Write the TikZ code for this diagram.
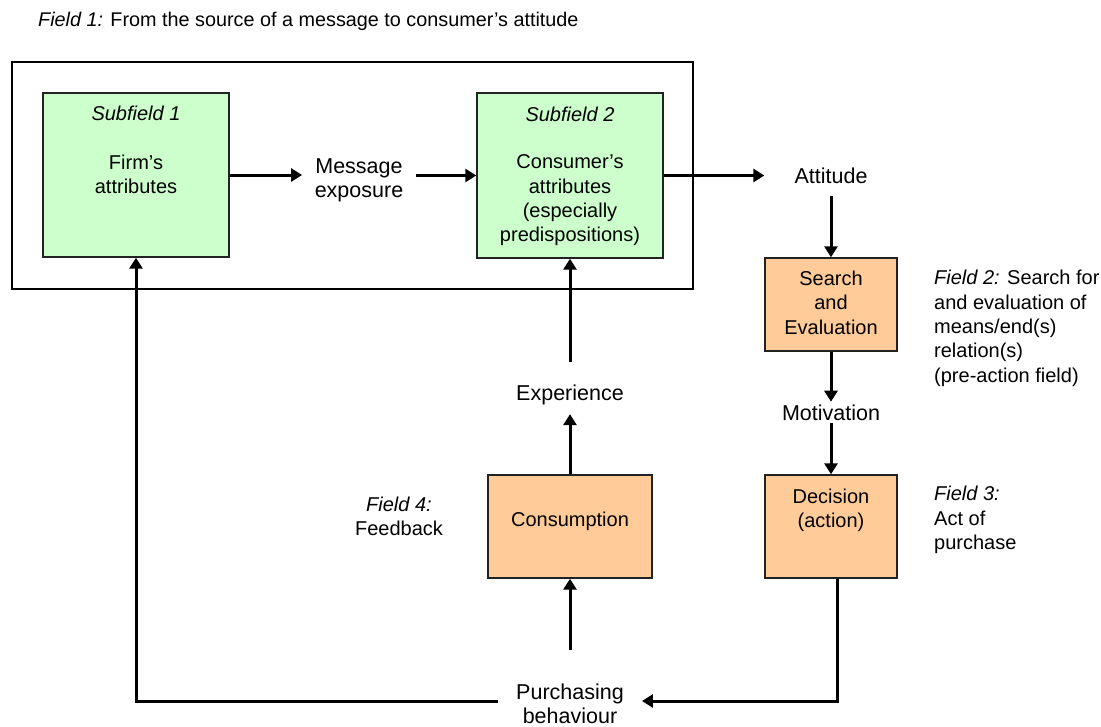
\documentclass[tikz,border=0pt]{standalone}
\usepackage{fontspec}
\setmainfont{Liberation Sans}
\usetikzlibrary{arrows.meta}
\definecolor{boxgreen}{HTML}{CCFFCC}
\definecolor{boxorange}{HTML}{FFCC99}
\definecolor{edge}{HTML}{222222}

\begin{document}
\begin{tikzpicture}[x=1pt,y=-1pt,
  boxfont/.style={font=\fontsize{20}{24.3}\selectfont},
  labfont/.style={font=\fontsize{21.5}{24}\selectfont},
  greenbox/.style={draw=edge, line width=1.4pt, fill=boxgreen, inner sep=0,
                   minimum width=186pt, minimum height=164pt},
  orangebox/.style={draw=edge, line width=1.4pt, fill=boxorange, inner sep=0},
  % multi-line texts are placed by the baseline of their last line
  txt/.style={boxfont, align=center, inner sep=0, anchor=base},
  note/.style={boxfont, align=left, inner sep=0, anchor=base west},
  flow/.style={line width=3pt, -{Triangle[length=11pt,width=13pt]}}
]
\useasboundingbox (0,0) rectangle (1101,726);
\fill[white] (0,0) rectangle (1101,726);

% heading
\node[font=\fontsize{19.8}{24}\selectfont, anchor=base west, inner sep=0] (title) at (38,26.5)
  {\textit{Field 1:} From the source of a message to consumer's attitude};

% field 1 frame with its two subfields
\node[draw=black, line width=1.6pt, minimum width=681pt, minimum height=227pt,
      inner sep=0] (field1) at (352.5,175.5) {};
\node[greenbox] (g1) at (136,175) {};
\node[txt] (g1a) at (136,120.7) {\textit{Subfield 1}};
\node[txt] (g1b) at (136,193.3) {Firm's\\attributes};
\node[greenbox, minimum height=165pt] (g2) at (570,175.5) {};
\node[txt] (g2a) at (570,121) {\textit{Subfield 2}};
\node[txt] (g2b) at (570,241.7) {Consumer's\\attributes\\(especially\\predispositions)};

\node[labfont, align=center, inner sep=0, inner xsep=12.5pt] (msg) at (359,180)
  {Message\\exposure};
\node[labfont, inner xsep=30pt, inner ysep=12pt] (att) at (831,176) {Attitude};

% pre-action and action fields
\node[orangebox, minimum width=132pt, minimum height=93pt] (search) at (831,304.5) {};
\node[txt] (searcht) at (831,334) {Search\\and\\Evaluation};
\node[labfont, inner sep=0, inner ysep=2.5pt, anchor=base] (mot) at (831,420) {Motivation};
\node[orangebox, minimum width=132pt, minimum height=103pt] (dec) at (831,526.5) {};
\node[txt] (dect) at (831,527.3) {Decision\\(action)};

% feedback field
\node[labfont, inner sep=0, anchor=base] (exp) at (570,400) {Experience};
\node[orangebox, minimum width=164pt, minimum height=103pt] (cons) at (570,526.5) {};
\node[txt] (const) at (570,526.7) {Consumption};
\node[labfont, align=center, inner sep=0, inner xsep=18pt, anchor=base] (purch)
  at (570,723.3) {Purchasing\\behaviour};

% side notes
\node[note] (f2) at (934,382)
  {\textit{Field 2:} Search for\\and evaluation of\\means/end(s)\\relation(s)\\(pre-action field)};
\node[note] (f3) at (934,549.3) {\textit{Field 3:}\\Act of\\purchase};
\node[txt] (f4) at (399,535.5) {\textit{Field 4:}\\Feedback};

% loose ends of the feedback loop
\coordinate (brk) at (837,701);
\coordinate (blk) at (136,701);
\coordinate (pu) at (570,650);

% connectors
\draw[flow] (g1.east) -- (g1.east -| msg.west);
\draw[flow] (msg.east |- g2.west) -- (g2.west);
\draw[flow] (g2.east) -- (g2.east -| att.west);
\draw[flow] (att.south) -- (search.north);
\draw[flow] (search.south) -- (mot.north);
\draw[flow] (mot.south) -- (dec.north);
\draw[flow] ([xshift=6pt]dec.south) |- (purch.east |- brk);
\draw[flow] (purch.west |- blk) -| (g1.south);
\draw[flow] (pu) -- (cons.south);
\draw[flow] (cons.north) -- ([yshift=-9.5pt]exp.south);
\draw[flow] ([yshift=22pt]exp.north) -- (g2.south);
\end{tikzpicture}
\end{document}
